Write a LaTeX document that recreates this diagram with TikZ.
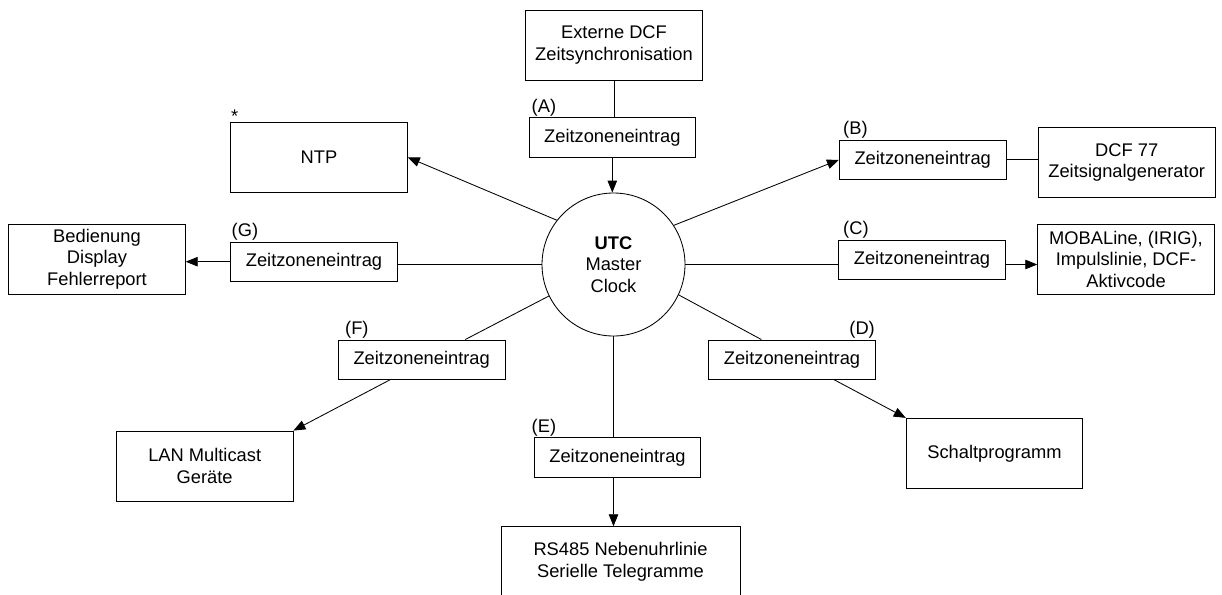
\documentclass[tikz,border=0pt]{standalone}
\usepackage{fontspec}
\setmainfont{Liberation Sans}
\usetikzlibrary{arrows.meta,calc}
\begin{document}
\begin{tikzpicture}[x=1pt,y=-1pt,
  every node/.style={font=\fontsize{18.3}{21.6}\selectfont},
  box/.style={draw, line width=0.85pt, align=center, inner sep=0pt,
    minimum width=176.6pt, minimum height=70pt},
  tz/.style={draw, line width=0.85pt, inner sep=0pt,
    minimum width=166.7pt, minimum height=39.5pt},
  tag/.style={inner sep=0pt, anchor=base west},
  link/.style={line width=0.85pt},
  flow/.style={link, -{Triangle[length=12pt,width=9.5pt]}}]
\useasboundingbox (0,0) rectangle (1222,594);

% central clock
\node[circle, draw, line width=0.85pt, minimum size=143pt, inner sep=0pt,
  align=center] (utc) at (613.5,264.5) {\textbf{UTC}\\Master\\Clock};

% endpoints
\node[box] (ext) at (614,45) {Externe DCF\\Zeitsynchronisation};
\node[box] (ntp) at (319,157.3) {NTP};
\node[box] (bed) at (97,259) {Bedienung\\Display\\Fehlerreport};
\node[box] (lan) at (204.7,466) {LAN Multicast\\Geräte};
\node[box, minimum width=239pt] (rs) at (620.5,561.7) {RS485 Nebenuhrlinie\\Serielle Telegramme};
\node[box] (sch) at (994.5,453.3) {Schaltprogramm};
\node[box] (dcf) at (1126.7,162.7) {DCF 77\\Zeitsignalgenerator};
\node[box] (moba) at (1126,259.3) {MOBALine, (IRIG),\\Impulslinie, DCF-\\Aktivcode};

% time zone entries
\node[tz] (a) at (612.3,137.5) {Zeitzoneneintrag};
\node[tz] (b) at (922.7,159.8) {Zeitzoneneintrag};
\node[tz] (c) at (922,259.7) {Zeitzoneneintrag};
\node[tz] (d) at (792,359.7) {Zeitzoneneintrag};
\node[tz] (e) at (617.5,457.3) {Zeitzoneneintrag};
\node[tz] (f) at (421.7,359.7) {Zeitzoneneintrag};
\node[tz] (g) at (314,261.7) {Zeitzoneneintrag};

% tags
\node[tag] (ta) at (531.5,112) {(A)};
\node[tag] (tb) at (843,134.5) {(B)};
\node[tag] (tc) at (843,234.3) {(C)};
\node[tag, anchor=base east] (td) at (875,334.3) {(D)};
\node[tag] (te) at (531.5,432) {(E)};
\node[tag] (tf) at (345,334.3) {(F)};
\node[tag] (tg) at (231.5,236.5) {(G)};
\node[tag] (star) at (231,122) {*};

% connectors
\draw[link] (ext.south) -- (ext.south |- a.north);
\draw[flow] (a.south) -- (a.south |- utc.north);
\draw[flow] (utc.142.7) -- (ntp.east);
\draw[flow] (utc.33.4) -- (b.west);
\draw[link] (b.east) -- (b.east -| dcf.west);
\draw[link] (utc.east) -- (utc.east -| c.west);
\draw[flow] (c.east |- utc.east) -- (moba.west |- utc.east);
\draw[link] (utc.-25) -- ($(d.north west)!0.317!(d.north east)$);
\draw[flow] ($(d.south west)!0.753!(d.south east)$) -- (sch.north west);
\draw[link] (utc.south) -- (utc.south |- e.north);
\draw[flow] (utc.south |- e.south) -- (utc.south |- rs.north);
\draw[link] (utc.206.7) -- ($(f.north west)!0.76!(f.north east)$);
\draw[flow] ($(f.south west)!0.31!(f.south east)$) -- (lan.north east);
\draw[link] (utc.west) -- (utc.west -| g.east);
\draw[flow] (g.west) -- (g.west -| bed.east);
\end{tikzpicture}
\end{document}
